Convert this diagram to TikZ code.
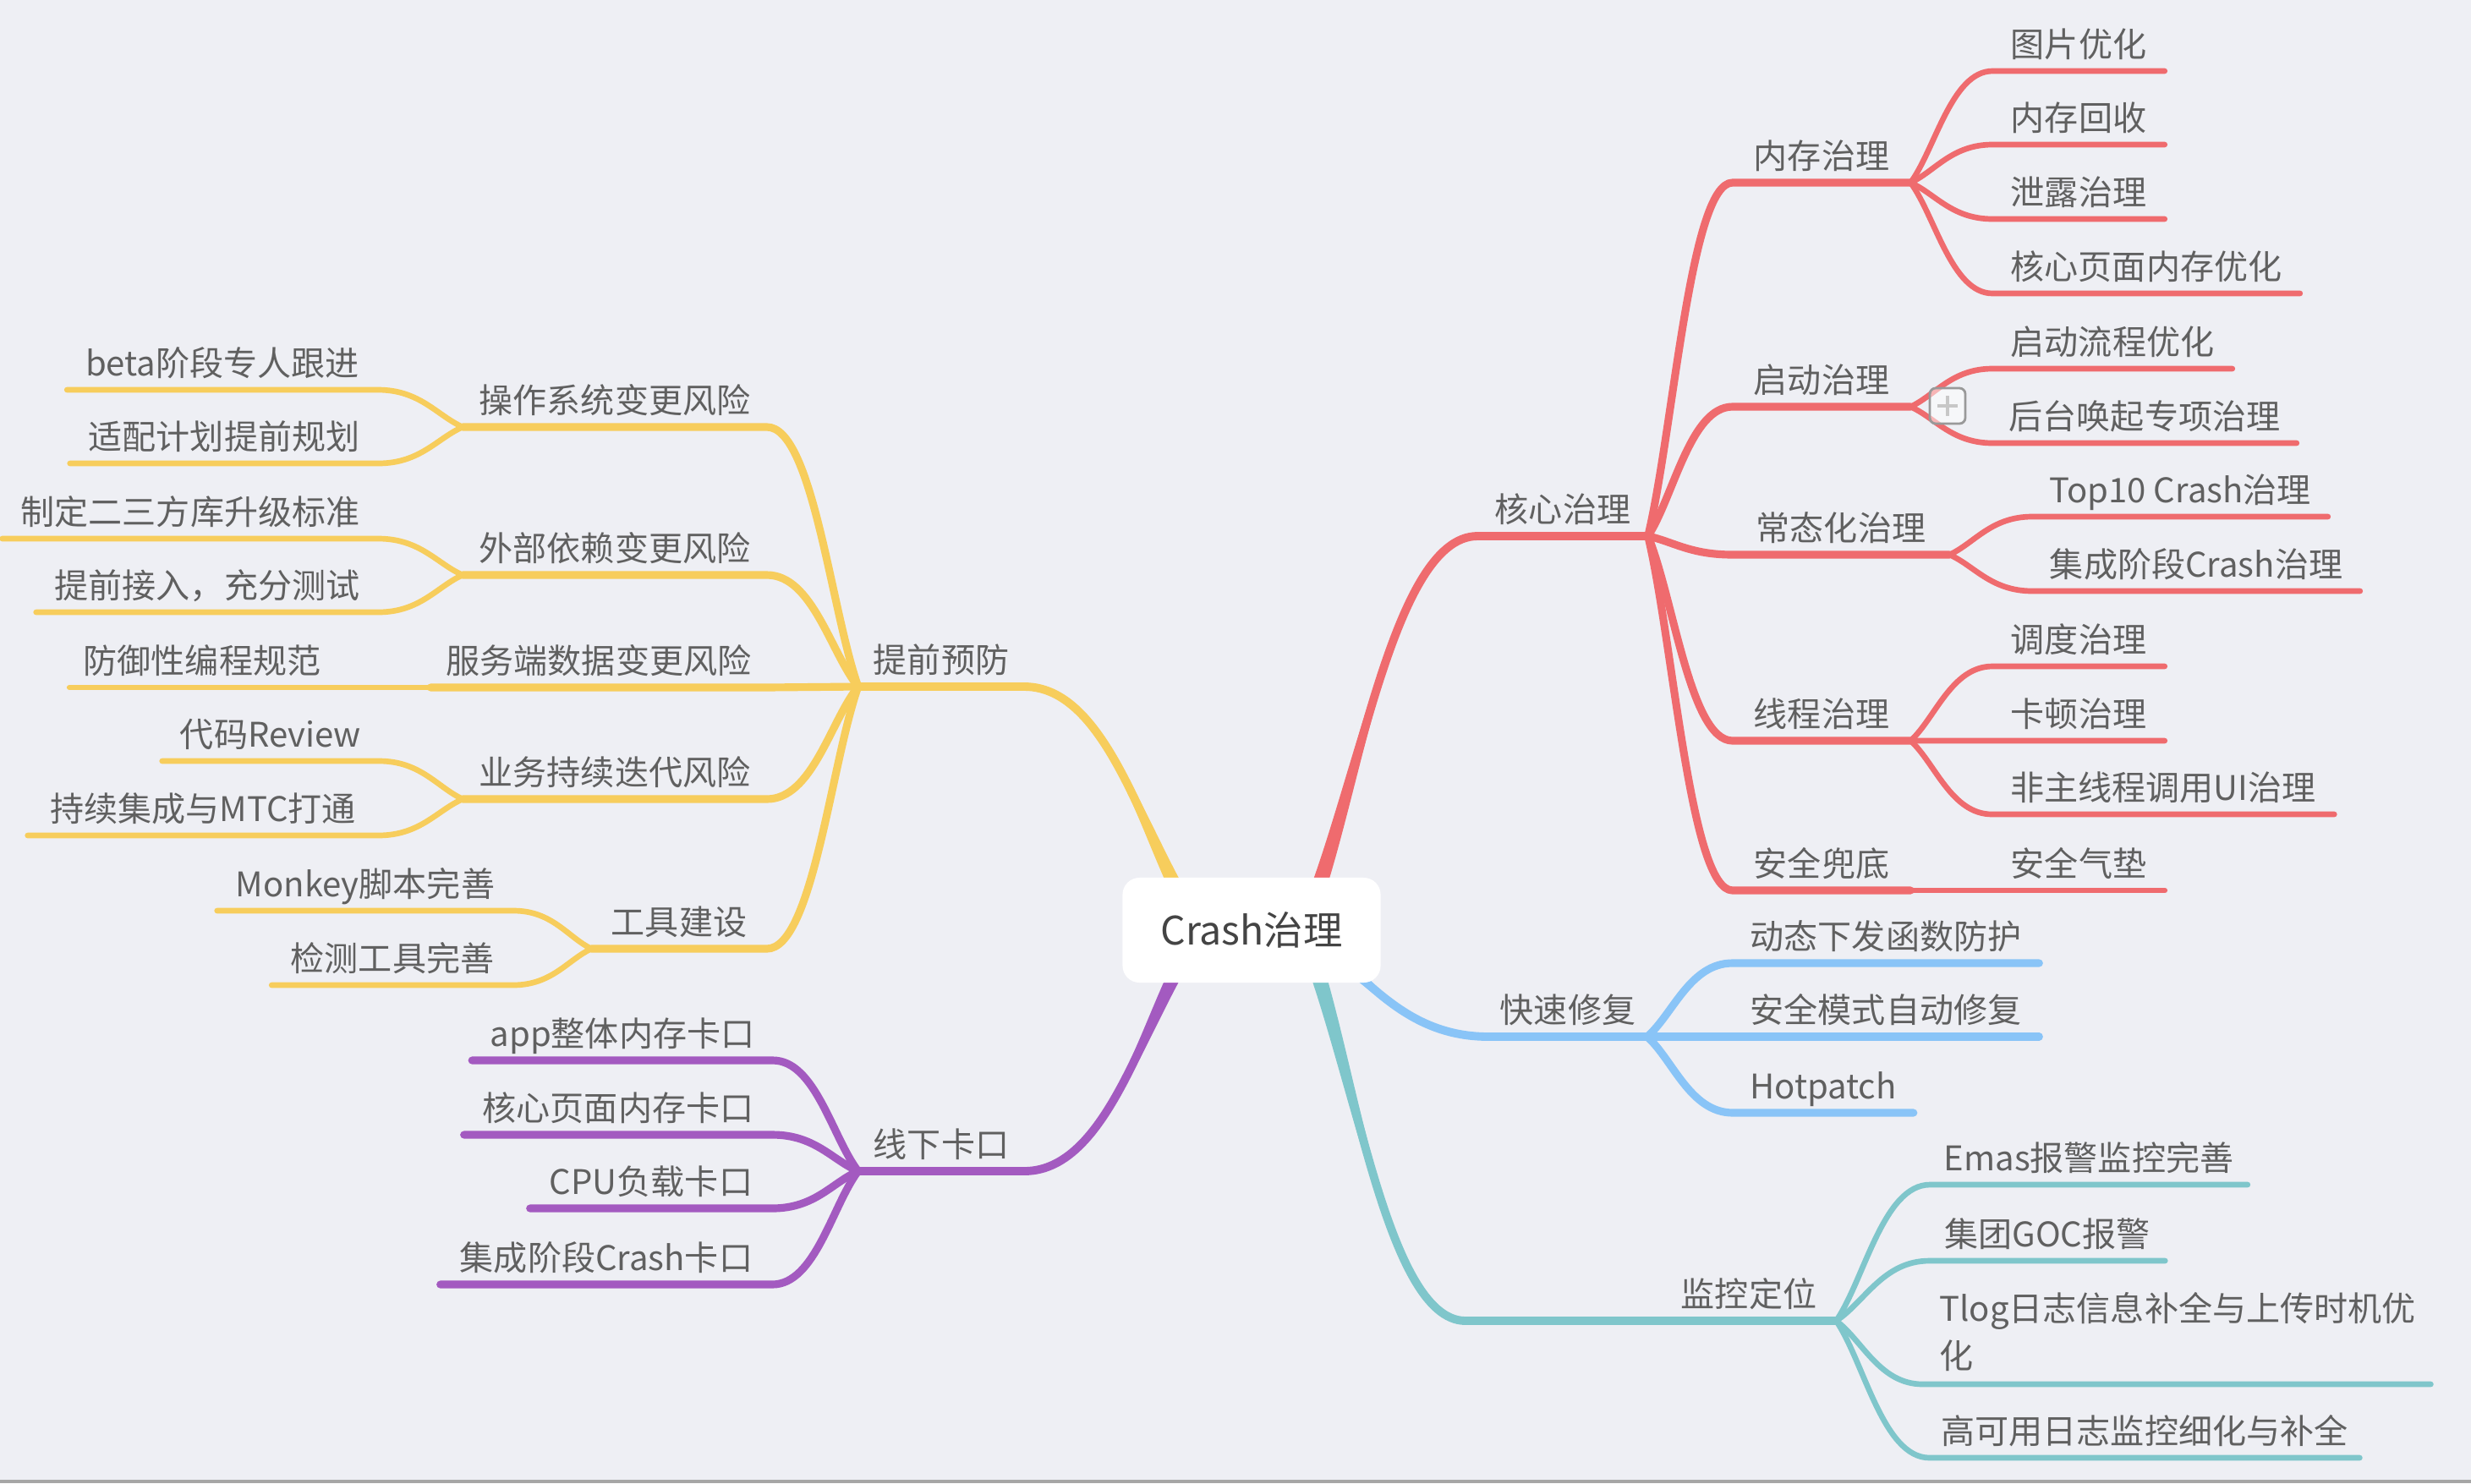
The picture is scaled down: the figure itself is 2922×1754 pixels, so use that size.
\documentclass[tikz,border=0pt]{standalone}
\usepackage{fontspec}
\setmainfont{Noto Sans CJK SC}
\usepackage{tikz}
\usetikzlibrary{calc}
\definecolor{bgcol}{RGB}{238,239,244}
\definecolor{txtgray}{RGB}{96,96,96}
\definecolor{roottxt}{RGB}{68,68,68}
\definecolor{cred}{RGB}{239,107,110}
\definecolor{cyel}{RGB}{247,205,92}
\definecolor{cpur}{RGB}{163,90,192}
\definecolor{cblu}{RGB}{137,196,247}
\definecolor{ctea}{RGB}{127,198,203}
\tikzstyle{topic} = [anchor=south, inner xsep=0pt, inner ysep=0.09cm,
    text height=0.8em, text depth=0.2em, text=txtgray,
    font=\fontsize{11.4pt}{16pt}\selectfont]
\tikzstyle{twoline} = [anchor=south, inner xsep=0.19cm, inner ysep=0.15cm,
    text width=5.61cm, align=left, text=txtgray,
    font=\fontsize{11.4pt}{15.9pt}\selectfont]
\tikzstyle{rootbox} = [fill=white, rounded corners=0.2cm, minimum width=3.05cm,
    minimum height=1.24cm, text=roottxt, font=\fontsize{13.2pt}{16pt}\selectfont]
\tikzstyle{foldbtn} = [draw=black!40, line width=0.8pt, fill=white, fill opacity=0.5,
    rounded corners=0.07cm, minimum size=0.42cm, inner sep=0pt]
\tikzstyle{lvlA} = [line width=2.8pt, line cap=round, line join=round]
\tikzstyle{lvlB} = [line width=2.6pt, line cap=round, line join=round]
\tikzstyle{lvlC} = [line width=1.9pt, line cap=round, line join=round]
\tikzstyle{branch} = [to path={let \p1=(\tikztostart), \p2=(\tikztotarget) in
    .. controls ({0.7*\x1+0.3*\x2},{0.7*\y1+0.3*\y2}) and ({0.5*\x1+0.5*\x2},\y2) .. (\p2)}]
\tikzstyle{taper} = [to path={let \p1=(\tikztostart), \p2=(\tikztotarget),
    \n1={veclen(\x2-\x1,\y2-\y1)},
    \p3=({-2.9pt*(\y2-\y1)/\n1},{2.9pt*(\x2-\x1)/\n1}) in
    ({\x1+\x3},{\y1+\y3})
    .. controls ({0.7*(\x1+\x3)+0.3*\x2},{0.7*(\y1+\y3)+0.3*\y2}) and ({0.5*\x1+0.5*\x2},\y2) .. (\p2)
    .. controls ({0.5*\x1+0.5*\x2},\y2) and ({0.7*(\x1-\x3)+0.3*\x2},{0.7*(\y1-\y3)+0.3*\y2}) .. ({\x1-\x3},{\y1-\y3})
    -- cycle}]

\begin{document}
\begin{tikzpicture}[x=0.01cm, y=-0.01cm]
    \fill[bgcol] (0,0) rectangle (2922,1754);
    \useasboundingbox (0,0) rectangle (2922,1754);
    \fill[black!35] (0,1750) rectangle (2922,1754);

    \coordinate (rootR) at (1540,1100);
    \coordinate (rootL) at (1420,1100);
    \coordinate (tealbend) at (1733,1562);

    \node[topic, minimum width=2.00cm] (kc) at (1848,634) {核心治理};
    \node[topic, minimum width=2.09cm] (nc) at (2154,216) {内存治理};
    \node[topic, minimum width=2.09cm] (qd) at (2154,481) {启动治理};
    \node[topic, minimum width=2.55cm] (ct) at (2177,656) {常态化治理};
    \node[topic, minimum width=2.09cm] (xc) at (2154,876) {线程治理};
    \node[topic, minimum width=2.09cm] (aq) at (2154,1053) {安全兜底};
    \node[topic, minimum width=2.02cm] (tp) at (2458,84) {图片优化};
    \node[topic, minimum width=2.02cm] (nh) at (2458,171) {内存回收};
    \node[topic, minimum width=2.02cm] (xl) at (2458,259) {泄露治理};
    \node[topic, minimum width=3.62cm] (hy) at (2538,347) {核心页面内存优化};
    \node[topic, minimum width=2.82cm] (lc) at (2498,436) {启动流程优化};
    \node[topic, minimum width=3.58cm] (hh) at (2536,524) {后台唤起专项治理};
    \node[topic, minimum width=3.48cm] (tten) at (2578,611) {Top10 Crash治理};
    \node[topic, minimum width=3.86cm] (jc) at (2597,699) {集成阶段Crash治理};
    \node[topic, minimum width=2.02cm] (dd) at (2458,788) {调度治理};
    \node[topic, minimum width=2.02cm] (kd) at (2458,876) {卡顿治理};
    \node[topic, minimum width=4.03cm] (fz) at (2558,963) {非主线程调用UI治理};
    \node[topic, minimum width=2.02cm] (qz) at (2458,1053) {安全气垫};

    \node[topic, minimum width=1.86cm] (ks) at (1854,1226) {快速修复};
    \node[topic, minimum width=3.61cm] (dt) at (2230,1139) {动态下发函数防护};
    \node[topic, minimum width=3.61cm] (aqm) at (2230,1226) {安全模式自动修复};
    \node[topic, minimum width=2.12cm] (hp) at (2156,1316) {Hotpatch};

    \node[topic, minimum width=2.05cm] (jk) at (2068,1562) {监控定位};
    \node[topic, minimum width=3.74cm] (em) at (2470,1401) {Emas报警监控完善};
    \node[topic, minimum width=2.77cm] (goc) at (2421,1491) {集团GOC报警};
    \node[twoline] (tlog) at (2574,1637) {Tlog日志信息补全与上传时机优\\化};
    \node[topic, minimum width=5.07cm] (gk) at (2536,1724) {高可用日志监控细化与补全};

    \node[topic, minimum width=1.95cm] (tq) at (1113,812) {提前预防};
    \node[topic, minimum width=3.58cm] (cz) at (727,505) {操作系统变更风险};
    \node[topic, minimum width=3.58cm] (wb) at (727,680) {外部依赖变更风险};
    \node[topic, minimum width=3.96cm] (fw) at (708,813) {服务端数据变更风险};
    \node[topic, minimum width=3.58cm] (yw) at (727,945) {业务持续迭代风险};
    \node[topic, minimum width=2.06cm] (gj) at (803,1122) {工具建设};
    \node[topic, minimum width=3.66cm] (beta) at (263,461) {beta阶段专人跟进};
    \node[topic, minimum width=3.63cm] (sp) at (265,548) {适配计划提前规划};
    \node[topic, minimum width=4.43cm] (zd) at (225,637) {制定二三方库升级标准};
    \node[topic, minimum width=4.03cm] (jr) at (245,724) {提前接入，充分测试};
    \node[topic, minimum width=3.12cm] (fy) at (239,813) {防御性编程规范};
    \node[topic, minimum width=2.55cm] (dm) at (320,900) {代码Review};
    \node[topic, minimum width=4.13cm] (cx) at (240,988) {持续集成与MTC打通};
    \node[topic, minimum width=3.49cm] (mk) at (432,1077) {Monkey脚本完善};
    \node[topic, minimum width=2.84cm] (jt) at (464,1165) {检测工具完善};

    \node[topic, minimum width=1.95cm] (xx) at (1113,1385) {线下卡口};
    \node[topic, minimum width=3.54cm] (app) at (736,1254) {app整体内存卡口};
    \node[topic, minimum width=3.63cm] (hx) at (731,1342) {核心页面内存卡口};
    \node[topic, minimum width=2.85cm] (cpu) at (770,1429) {CPU负载卡口};
    \node[topic, minimum width=3.91cm] (jcc) at (717,1519) {集成阶段Crash卡口};

    \fill[cred] (rootR) to[taper] (kc.south west);
    \draw[lvlA, cred] (rootR) to[branch] (kc.south west) -- (kc.south east);
    \draw[lvlB, cred] (kc.south east) to[branch] (nc.south west) -- (nc.south east);
    \draw[lvlB, cred] (kc.south east) to[branch] (qd.south west) -- (qd.south east);
    \draw[lvlB, cred] (kc.south east) to[branch] (ct.south west) -- (ct.south east);
    \draw[lvlB, cred] (kc.south east) to[branch] (xc.south west) -- (xc.south east);
    \draw[lvlB, cred] (kc.south east) to[branch] (aq.south west) -- (aq.south east);
    \draw[lvlC, cred] (nc.south east) to[branch] (tp.south west) -- (tp.south east);
    \draw[lvlC, cred] (nc.south east) to[branch] (nh.south west) -- (nh.south east);
    \draw[lvlC, cred] (nc.south east) to[branch] (xl.south west) -- (xl.south east);
    \draw[lvlC, cred] (nc.south east) to[branch] (hy.south west) -- (hy.south east);
    \draw[lvlC, cred] (qd.south east) to[branch] (lc.south west) -- (lc.south east);
    \draw[lvlC, cred] (qd.south east) to[branch] (hh.south west) -- (hh.south east);
    \draw[lvlC, cred] (ct.south east) to[branch] (tten.south west) -- (tten.south east);
    \draw[lvlC, cred] (ct.south east) to[branch] (jc.south west) -- (jc.south east);
    \draw[lvlC, cred] (xc.south east) to[branch] (dd.south west) -- (dd.south east);
    \draw[lvlC, cred] (xc.south east) to[branch] (kd.south west) -- (kd.south east);
    \draw[lvlC, cred] (xc.south east) to[branch] (fz.south west) -- (fz.south east);
    \draw[lvlC, cred] (aq.south east) -- (qz.south west) -- (qz.south east);

    \node[foldbtn] (fold) at (2303,480) {};
    \draw[black!22, line width=0.9pt] ($(fold.center)+(-12,0)$) -- ($(fold.center)+(12,0)$);
    \draw[black!22, line width=0.9pt] ($(fold.center)+(0,-12)$) -- ($(fold.center)+(0,12)$);

    \fill[cblu] (rootR) to[taper] (ks.south west);
    \draw[lvlA, cblu] (rootR) to[branch] (ks.south west) -- (ks.south east);
    \draw[lvlB, cblu] (ks.south east) to[branch] (dt.south west) -- (dt.south east);
    \draw[lvlB, cblu] (ks.south east) -- (aqm.south west) -- (aqm.south east);
    \draw[lvlB, cblu] (ks.south east) to[branch] (hp.south west) -- (hp.south east);

    \fill[ctea] (rootR) to[taper] (tealbend);
    \draw[lvlA, ctea] (rootR) to[branch] (tealbend) -- (jk.south west) -- (jk.south east);
    \draw[lvlC, ctea] (jk.south east) to[branch] (em.south west) -- (em.south east);
    \draw[lvlC, ctea] (jk.south east) to[branch] (goc.south west) -- (goc.south east);
    \draw[lvlC, ctea] (jk.south east) to[branch] (tlog.south west) -- (tlog.south east);
    \draw[lvlC, ctea] (jk.south east) to[branch] (gk.south west) -- (gk.south east);

    \fill[cyel] (rootL) to[taper] (tq.south east);
    \draw[lvlA, cyel] (rootL) to[branch] (tq.south east) -- (tq.south west);
    \draw[lvlB, cyel] (tq.south west) to[branch] (cz.south east) -- (cz.south west);
    \draw[lvlB, cyel] (tq.south west) to[branch] (wb.south east) -- (wb.south west);
    \draw[lvlB, cyel] (tq.south west) -- (fw.south east) -- (fw.south west);
    \draw[lvlB, cyel] (tq.south west) to[branch] (yw.south east) -- (yw.south west);
    \draw[lvlB, cyel] (tq.south west) to[branch] (gj.south east) -- (gj.south west);
    \draw[lvlC, cyel] (cz.south west) to[branch] (beta.south east) -- (beta.south west);
    \draw[lvlC, cyel] (cz.south west) to[branch] (sp.south east) -- (sp.south west);
    \draw[lvlC, cyel] (wb.south west) to[branch] (zd.south east) -- (zd.south west);
    \draw[lvlC, cyel] (wb.south west) to[branch] (jr.south east) -- (jr.south west);
    \draw[lvlC, cyel] (fw.south west) -- (fy.south east) -- (fy.south west);
    \draw[lvlC, cyel] (yw.south west) to[branch] (dm.south east) -- (dm.south west);
    \draw[lvlC, cyel] (yw.south west) to[branch] (cx.south east) -- (cx.south west);
    \draw[lvlC, cyel] (gj.south west) to[branch] (mk.south east) -- (mk.south west);
    \draw[lvlC, cyel] (gj.south west) to[branch] (jt.south east) -- (jt.south west);

    \fill[cpur] (rootL) to[taper] (xx.south east);
    \draw[lvlA, cpur] (rootL) to[branch] (xx.south east) -- (xx.south west);
    \draw[lvlB, cpur] (xx.south west) to[branch] (app.south east) -- (app.south west);
    \draw[lvlB, cpur] (xx.south west) to[branch] (hx.south east) -- (hx.south west);
    \draw[lvlB, cpur] (xx.south west) to[branch] (cpu.south east) -- (cpu.south west);
    \draw[lvlB, cpur] (xx.south west) to[branch] (jcc.south east) -- (jcc.south west);

    \node[rootbox] (root) at (1480,1100) {Crash治理};
\end{tikzpicture}
\end{document}
